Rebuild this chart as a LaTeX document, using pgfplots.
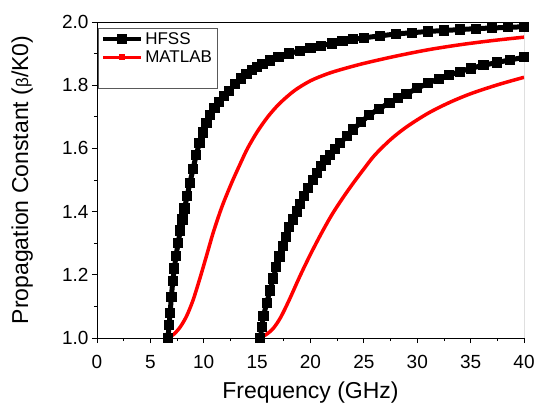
\documentclass[border=0pt]{standalone}
\usepackage{pgfplots}
\pgfplotsset{compat=1.18}
\usepackage{fontspec}
\setmainfont{Liberation Sans}
\begin{document}
\begin{tikzpicture}
\useasboundingbox (-97pt,-65pt) rectangle (437pt,338pt);
\begin{axis}[
  at={(0,0)}, anchor=south west,
  scale only axis, width=427pt, height=316pt,
  xmin=0, xmax=40, ymin=1.0, ymax=2.0,
  xtick={0,5,...,40}, ytick={1.0,1.2,...,2.0},
  minor x tick num=1, minor y tick num=1,
  tick align=outside, axis x line*=bottom, axis y line*=left,
  axis line style={line width=0.8pt},
  major tick length=5pt, minor tick length=3pt,
  tick style={line width=0.8pt, black},
  /pgf/number format/assume math mode=true,
  xticklabel style={font=\fontsize{19}{22}\selectfont, yshift=-9pt},
  yticklabel style={font=\fontsize{19}{22}\selectfont, /pgf/number format/fixed, /pgf/number format/fixed zerofill, /pgf/number format/precision=1},
  xlabel={Frequency (GHz)},
  ylabel={Propagation Constant ({\fontsize{17}{20}\selectfont β}/K0)},
  xlabel style={font=\fontsize{23}{27}\selectfont, at={(axis description cs:0.5,0)}, anchor=north, yshift=-44pt, inner sep=0pt},
  ylabel style={font=\fontsize{23}{27}\selectfont, at={([xshift=-64pt]axis description cs:0,0.5)}, anchor=south, inner sep=0pt},
  legend style={at={(rel axis cs:0.002,0.981)}, anchor=north west, draw=black!65, line width=0.8pt, fill=white,
    nodes={font=\fontsize{17}{20}\selectfont}, row sep=1pt, inner xsep=3pt, inner ysep=2pt},
  legend cell align=left,
  legend image code/.code={\draw[mark repeat=2, mark phase=2] plot coordinates {(0pt,0pt) (19pt,0pt) (38pt,0pt)};},
]
\addplot[draw=none, forget plot] coordinates {(0,1)};
\draw[black, line width=0.8pt] (rel axis cs:0,1) -- (rel axis cs:1,1) -- (rel axis cs:1,0);
% HFSS mode 1
\addplot[black, line width=5pt, mark=square*, mark size=2.6pt, smooth, tension=0.5, forget plot] coordinates {
(6.65,1.00)(6.75,1.04)(6.85,1.08)(6.97,1.13)(7.1,1.18)(7.25,1.22)(7.4,1.26)(7.6,1.30)(7.8,1.34)(8.0,1.375)(8.2,1.41)(8.45,1.45)(8.7,1.49)(9.0,1.535)(9.3,1.58)(9.6,1.617)(9.9,1.65)(10.25,1.68)(10.6,1.705)(11.0,1.728)(11.4,1.748)(11.9,1.766)(12.4,1.782)(12.9,1.803)(13.5,1.821)(14.0,1.835)(14.5,1.847)(15.0,1.857)(15.5,1.867)(16.2,1.878)(17,1.889)(18,1.9)(19,1.909)(20,1.918)(21,1.925)(22,1.932)(23,1.939)(24,1.945)(25,1.95)(26.5,1.956)(28,1.962)(29.5,1.966)(31,1.97)(32.5,1.973)(34,1.976)(35.5,1.979)(37,1.981)(38.5,1.983)(40,1.985)};
% MATLAB mode 1
\addplot[red, line width=3.5pt, smooth, tension=0.5, forget plot] coordinates {
(6.65,1.00)(7.2,1.012)(7.8,1.035)(8.4,1.07)(9.0,1.12)(9.65,1.19)(10.3,1.265)(10.9,1.335)(11.7,1.415)(12.6,1.49)(13.4,1.55)(14.1,1.60)(15,1.652)(16,1.70)(17.1,1.742)(18.5,1.783)(20,1.814)(21.5,1.835)(22.8,1.849)(25,1.869)(28,1.892)(31,1.912)(34,1.928)(37,1.941)(40,1.952)};
% HFSS mode 2
\addplot[black, line width=5pt, mark=square*, mark size=2.6pt, smooth, tension=0.5, forget plot] coordinates {
(15.3,1.00)(15.45,1.035)(15.6,1.07)(15.9,1.11)(16.2,1.15)(16.5,1.188)(16.8,1.225)(17.1,1.258)(17.4,1.29)(17.7,1.32)(18,1.35)(18.35,1.375)(18.7,1.40)(19.05,1.425)(19.4,1.45)(19.8,1.475)(20.2,1.50)(20.6,1.523)(21,1.545)(21.4,1.563)(21.8,1.58)(22.3,1.599)(22.8,1.617)(23.4,1.639)(24,1.66)(24.75,1.683)(25.5,1.705)(26.4,1.725)(27.4,1.744)(28.2,1.759)(29,1.773)(30,1.79)(31,1.806)(32,1.82)(33,1.832)(34,1.843)(35,1.853)(36.2,1.863)(37.5,1.872)(38.7,1.88)(40,1.888)};
% MATLAB mode 2
\addplot[red, line width=3.5pt, smooth, tension=0.5, forget plot] coordinates {
(15.1,1.00)(15.8,1.010)(16.5,1.030)(17.2,1.065)(18.0,1.120)(19.0,1.195)(20.0,1.265)(21.0,1.330)(22.0,1.390)(23.0,1.442)(24.0,1.490)(25.0,1.535)(26.0,1.578)(27.5,1.628)(29.0,1.668)(31.0,1.711)(33.0,1.745)(35.0,1.773)(37.5,1.801)(40.0,1.825)};
\addlegendimage{black, line width=4pt, mark=square*, mark size=2.8pt}
\addlegendentry{HFSS}
\addlegendimage{red, line width=3pt, mark=square*, mark size=1.6pt}
\addlegendentry{MATLAB}
\addlegendimage{empty legend}
\addlegendentry{\strut}
\end{axis}
\end{tikzpicture}
\end{document}
